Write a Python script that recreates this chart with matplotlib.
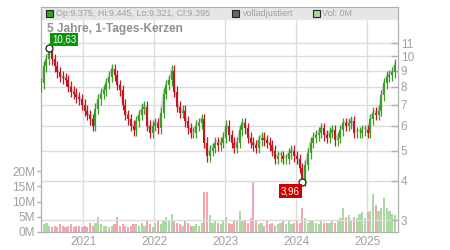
import numpy as np
import pandas as pd
import matplotlib
matplotlib.use("Agg")
import matplotlib.pyplot as plt
import matplotlib.dates as mdates
from matplotlib.patches import Rectangle

plt.rcParams['font.family'] = ['Liberation Sans', 'DejaVu Sans']

# biweekly closes (EUR)
closes = [8.2, 9.3, 9.8, 10.6, 9.8, 9.3, 8.9, 8.6, 8.5, 8.4, 8.0, 7.7, 7.6, 7.4, 7.3, 7.0,
          6.7, 6.5, 6.3, 6.0, 6.8, 7.3, 7.6, 7.8, 8.2, 8.6, 9.1, 8.7, 8.1, 7.8, 7.0,
          6.5, 6.3, 6.0, 5.8, 6.2, 6.5, 6.8, 6.9, 6.0, 5.7, 6.0, 6.1, 5.9, 6.6, 7.6,
          8.1, 8.4, 9.0, 7.7, 6.9, 6.6, 6.7, 6.2, 5.9, 5.7, 5.7, 6.0, 6.1, 6.3, 5.3,
          4.8, 5.0, 5.1, 5.3, 5.2, 5.3, 5.5, 6.0, 5.6, 5.3, 5.1, 5.3, 5.8, 6.1, 5.9,
          5.5, 5.3, 5.2, 5.1, 5.4, 5.5, 5.4, 5.3, 5.2, 5.0, 4.7, 4.8, 4.8, 4.7, 4.7,
          4.9, 5.0, 4.8, 4.7, 4.4, 4.0, 4.5, 4.9, 5.3, 5.5, 5.6, 5.7, 5.9, 5.6, 5.5,
          5.7, 5.8, 5.4, 5.5, 5.8, 6.1, 6.0, 6.1, 6.2, 5.7, 5.7, 5.7, 5.8, 5.8, 5.7,
          6.3, 6.6, 6.5, 6.7, 7.5, 8.2, 8.6, 8.7, 8.9, 9.4]
first_open = 8.0

# volume in millions
volumes = [3.5, 2.5, 3, 2, 1.5, 2, 1.5, 2.5, 2, 1.5, 2, 2.5, 1.5, 2, 2, 1.5,
           2, 1.5, 3, 2, 3, 5, 2.5, 2, 2, 1.5, 2, 2.5, 5, 2, 2.5,
           2, 1.5, 2, 2.5, 2.5, 2, 3, 2, 3.5, 2.5, 1.5, 3, 4, 2.5, 3.5,
           5, 3.5, 6, 3.5, 3, 2.5, 2, 3.5, 3, 2, 2, 2.5, 2, 3, 13,
           13, 5.5, 3, 3.5, 3, 2.5, 3.5, 5, 3, 2.5, 3.5, 4, 7, 4, 3.5,
           3, 4.5, 16.5, 3.5, 2.5, 3, 2, 3.5, 2.5, 3, 2, 2.5, 3, 4, 2.5,
           3.5, 2.5, 3, 4, 3, 8, 4.5, 3, 3.5, 4, 3, 2.5, 3.5, 3, 3,
           3, 4, 3, 3.5, 4.5, 8, 5, 5.5, 4, 5, 4.5, 6, 6.5, 4.5, 6.5,
           7, 12.5, 9, 7, 8, 11, 8, 7, 6, 5.5]

dates = pd.date_range('2020-05-29', periods=len(closes), freq='14D')
hi_label, lo_label = "10,63", "3,96"
hi_val, lo_val = 10.63, 3.96
price_ticks = [3, 4, 5, 6, 7, 8, 9, 10, 11]
vol_ticks = [0, 5, 10, 15, 20]
header = "Op:9.375, Hi:9.445, Lo:9.321, Cl:9.395"

closes = np.array(closes)
opens = np.r_[first_open, closes[:-1]]
up = closes >= opens
x = mdates.date2num(dates)

green, red = '#3d9e27', '#c4161c'
vgreen, vred = '#acd9a2', '#f2a7b0'
grid = '#dcdcdc'
txt = '#a0a0a0'

fig = plt.figure(figsize=(4.5, 2.5), dpi=100)
ax = fig.add_axes([41/450, 1-232/250, 357/450, 225/250])
ax2 = ax.twinx()

# volume
ax.bar(x, volumes, width=11, color=np.where(up, vgreen, vred), linewidth=0, zorder=2)
ax.set_ylim(0, 225/3.05)
ax.set_yticks(vol_ticks)
ax.set_yticklabels([f"{v}M" for v in vol_ticks])

# price candles
lo = np.minimum(opens, closes)
hi = np.maximum(opens, closes)
ax2.plot(x + 2, closes * 1.015, color='#999999', lw=1.5, alpha=0.45, zorder=2)
ax2.vlines(x, lo * 0.96, hi * 1.04, color=np.where(up, green, red), lw=0.9, zorder=3)
ax2.bar(x, hi - lo, bottom=lo, width=10, color=np.where(up, green, red), linewidth=0, zorder=3)
ax2.set_yscale('log')
ax2.set_ylim(3 * np.exp(-12/136), 3 * np.exp(213/136))
ax2.set_yticks(price_ticks)
ax2.set_yticklabels([str(p) for p in price_ticks])
ax2.yaxis.set_minor_locator(matplotlib.ticker.NullLocator())

x0 = mdates.date2num(pd.Timestamp('2020-05-29'))
x1 = mdates.date2num(pd.Timestamp('2025-06-08'))
ax.set_xlim(x0, x1)
ax.xaxis.set_major_locator(mdates.YearLocator())
ax.xaxis.set_major_formatter(mdates.DateFormatter('%Y'))

for y in price_ticks:
    ax2.axhline(y, color=grid, lw=1, zorder=0)
ax.grid(axis='x', color=grid, lw=1, zorder=0)
ax.set_axisbelow(True)

for a in (ax, ax2):
    for s in a.spines.values():
        s.set_color('#b0b0b0')
    a.tick_params(colors='#b0b0b0', labelcolor=txt, labelsize=8.5, width=1)
ax.spines['top'].set_color(grid)
ax.tick_params(axis='x', length=0, pad=3)
ax.tick_params(axis='y', length=3, pad=1)
ax2.tick_params(axis='y', direction='in', length=5, pad=2)

# header band
ax.axhspan(225/3.05 - 12/3.05, 225/3.05, color='#e6e6e6', zorder=1)
items = [(0.014, 0.042, green, header),
         (0.535, 0.566, '#666666', "volladjustiert"),
         (0.762, 0.787, vgreen, "Vol: 0M")]
for xs, xt, c, label in items:
    ax.add_patch(Rectangle((xs, 0.973 - 0.0155), 0.0196, 0.031, transform=ax.transAxes,
                           fc=c, ec='#222222', lw=0.8, zorder=5))
    ax.text(xt, 0.973, label, transform=ax.transAxes, color=txt, fontsize=6.5,
            va='center', zorder=5)

ax.text(0.017, 0.902, "5 Jahre, 1-Tages-Kerzen", transform=ax.transAxes, color='#909090',
        fontsize=8.6, fontweight='bold', va='center', zorder=5)

# extreme markers
ih = int(np.argmax(closes))
il = int(np.argmin(closes))
ax2.plot(x[ih], hi_val, 'o', mfc='white', mec='#222222', ms=5, mew=0.9, zorder=6)
ax2.plot(x[il], lo_val, 'o', mfc='white', mec='#222222', ms=5, mew=0.9, zorder=6)
ax2.annotate(hi_label, (x[ih], hi_val), xytext=(2, 2.5), textcoords='offset points',
             color='white', fontsize=7, ha='left', va='bottom', zorder=7,
             bbox=dict(boxstyle='square,pad=0.2', fc='#0a960a', ec='none'))
ax2.annotate(lo_label, (x[il], lo_val), xytext=(-2, -3), textcoords='offset points',
             color='white', fontsize=7, ha='right', va='top', zorder=7,
             bbox=dict(boxstyle='square,pad=0.2', fc='#cc0000', ec='none'))

fig.savefig('out.png', dpi=100)
